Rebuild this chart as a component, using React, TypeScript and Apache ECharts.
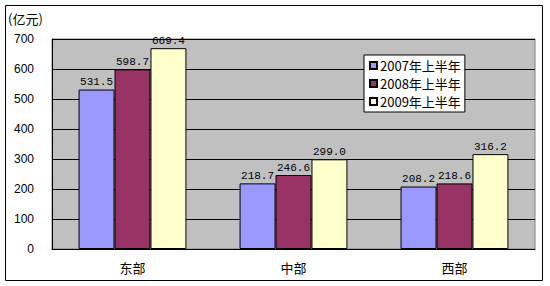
import React, { useEffect, useRef } from "react";
import * as echarts from "echarts";

const categories = ["东部", "中部", "西部"];
const seriesNames = ["2007年上半年", "2008年上半年", "2009年上半年"];
const values2007 = [531.5, 218.7, 208.2];
const values2008 = [598.7, 246.6, 218.6];
const values2009 = [669.4, 299.0, 316.2];
const colors = ["#9999ff", "#993366", "#ffffcc"];

export default function App() {
  const ref = useRef<HTMLDivElement>(null);
  useEffect(() => {
    if (!ref.current) return;
    const chart = echarts.init(ref.current, null, { renderer: "svg" });
    const data = [values2007, values2008, values2009];
    chart.setOption({
      animation: false,
      backgroundColor: "#ffffff",
      textStyle: { fontFamily: "'Noto Sans CJK SC', sans-serif" },
      graphic: [
        {
          type: "rect",
          z: 100,
          silent: true,
          shape: { x: 5.5, y: 5.5, width: 537, height: 275 },
          style: { fill: "transparent", stroke: "#000000", lineWidth: 1 },
        },
        {
          type: "text",
          left: 8,
          top: 12,
          style: { text: "(亿元)", fill: "#000", font: "13px 'Noto Sans CJK SC', sans-serif" },
        },
      ],
      grid: {
        left: 52,
        right: 15,
        top: 39,
        bottom: 37,
        show: true,
        backgroundColor: "#c0c0c0",
        borderColor: "#808080",
        borderWidth: 1,
      },
      legend: {
        orient: "vertical",
        left: 364,
        top: 55,
        data: seriesNames,
        backgroundColor: "#ffffff",
        borderColor: "#000",
        borderWidth: 1,
        padding: [4, 4, 4, 5],
        itemWidth: 7,
        itemHeight: 7,
        itemGap: 5,
        icon: "rect",
        textStyle: { fontSize: 13, color: "#000", padding: [0, 0, 0, -2], fontFamily: "'Noto Sans CJK SC', sans-serif" },
      },
      xAxis: {
        type: "category",
        data: categories,
        axisLine: { lineStyle: { color: "#000" } },
        axisTick: { show: false },
        axisLabel: { color: "#000", fontSize: 13, margin: 12 },
      },
      yAxis: {
        type: "value",
        min: 0,
        max: 700,
        interval: 100,
        axisLine: { show: true, lineStyle: { color: "#000" } },
        axisTick: { show: false },
        axisLabel: { color: "#000", fontSize: 12, margin: 18, fontFamily: "Arial, 'Liberation Sans', sans-serif" },
        splitLine: { lineStyle: { color: "#000", width: 1 } },
      },
      series: seriesNames.map((name, i) => ({
        name,
        type: "bar",
        data: data[i],
        barGap: "0%",
        barCategoryGap: "33%",
        itemStyle: { color: colors[i], borderColor: "#000", borderWidth: 1 },
        label: {
          show: true,
          position: "top",
          distance: 2,
          color: "#000",
          fontSize: 11,
          fontFamily: "'Liberation Mono', 'DejaVu Sans Mono', monospace",
          formatter: (p: any) => Number(p.value).toFixed(1),
        },
      })),
    });
    return () => chart.dispose();
  }, []);
  return (
    <div style={{ position: "fixed", left: 0, top: 0 }}>
      <div ref={ref} style={{ width: 550, height: 286 }} />
    </div>
  );
}
